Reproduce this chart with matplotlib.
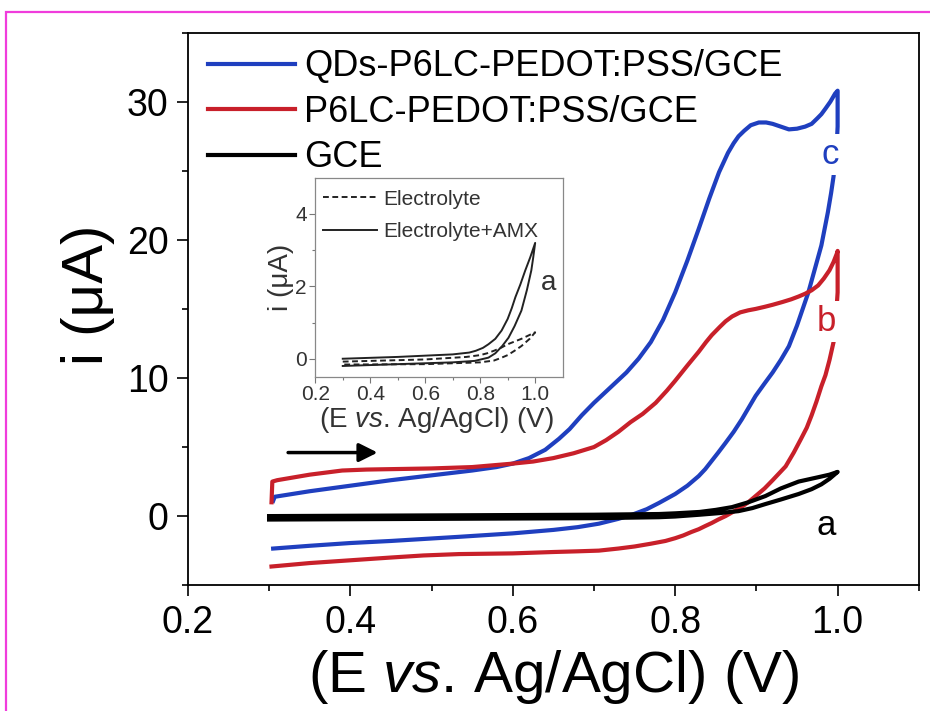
import matplotlib
matplotlib.use('Agg')
import matplotlib.pyplot as plt
from matplotlib.patches import Rectangle

plt.rcParams['font.family'] = ['Liberation Sans', 'DejaVu Sans']
plt.rcParams['mathtext.fontset'] = 'custom'
plt.rcParams['mathtext.rm'] = 'Liberation Sans'
plt.rcParams['mathtext.it'] = 'Liberation Sans:italic'

# CV of QDs-P6LC-PEDOT:PSS/GCE (c)
c_fwd_E = [0.305, 0.307, 0.35, 0.40, 0.45, 0.50, 0.55, 0.58, 0.60, 0.62, 0.64, 0.657,
           0.67, 0.685, 0.70, 0.72, 0.74, 0.755, 0.77, 0.785, 0.80, 0.815, 0.829, 0.842,
           0.854, 0.865, 0.872, 0.878, 0.885, 0.893, 0.903, 0.912, 0.92, 0.93, 0.94,
           0.95, 0.96, 0.968, 0.975, 0.98, 0.985, 0.991, 0.997, 1.0]
c_fwd_i = [1.1, 1.4, 1.8, 2.2, 2.6, 2.95, 3.3, 3.55, 3.8, 4.2, 4.8, 5.6,
           6.3, 7.3, 8.2, 9.3, 10.4, 11.4, 12.6, 14.2, 16.2, 18.5, 20.8, 23.0,
           24.9, 26.3, 27.0, 27.5, 27.9, 28.3, 28.5, 28.5, 28.4, 28.2, 28.0,
           28.05, 28.2, 28.4, 28.8, 29.1, 29.5, 30.0, 30.6, 30.8]
c_rev_E = [1.0, 0.999, 0.997, 0.995, 0.992, 0.988, 0.984, 0.98, 0.972, 0.964, 0.957,
           0.95, 0.94, 0.93, 0.92, 0.91, 0.899, 0.89, 0.882, 0.872, 0.862, 0.853,
           0.845, 0.837, 0.829, 0.815, 0.80, 0.78, 0.765, 0.747, 0.73, 0.706, 0.68,
           0.65, 0.60, 0.534, 0.45, 0.40, 0.35, 0.305]
c_rev_i = [28.2, 27.0, 25.8, 24.6, 23.4, 22.0, 20.8, 19.6, 17.9, 16.2, 15.0,
           13.8, 12.3, 11.3, 10.4, 9.6, 8.7, 7.8, 7.0, 6.1, 5.3, 4.6,
           4.0, 3.4, 2.9, 2.2, 1.6, 0.95, 0.5, 0.1, -0.2, -0.55, -0.8,
           -1.0, -1.25, -1.5, -1.8, -1.95, -2.15, -2.35]

# CV of P6LC-PEDOT:PSS/GCE (b)
b_fwd_E = [0.303, 0.304, 0.31, 0.32, 0.335, 0.35, 0.37, 0.39, 0.42, 0.45, 0.50, 0.55,
           0.60, 0.625, 0.65, 0.675, 0.70, 0.715, 0.73, 0.745, 0.76, 0.776, 0.79, 0.80,
           0.815, 0.829, 0.838, 0.845, 0.855, 0.862, 0.87, 0.88, 0.89, 0.899, 0.91,
           0.92, 0.932, 0.943, 0.952, 0.96, 0.968, 0.976, 0.983, 0.99, 0.995, 0.999, 1.0]
b_fwd_i = [1.0, 2.5, 2.6, 2.7, 2.85, 3.0, 3.15, 3.3, 3.37, 3.4, 3.45, 3.55,
           3.8, 3.95, 4.2, 4.55, 5.0, 5.5, 6.1, 6.8, 7.4, 8.2, 9.1, 9.8,
           10.9, 11.9, 12.6, 13.1, 13.7, 14.1, 14.45, 14.75, 14.9, 15.0, 15.15,
           15.3, 15.5, 15.7, 15.9, 16.1, 16.35, 16.7, 17.2, 17.8, 18.4, 19.0, 19.2]
b_rev_E = [1.0, 0.999, 0.998, 0.996, 0.995, 0.99, 0.985, 0.98, 0.974, 0.968, 0.962,
           0.955, 0.946, 0.936, 0.928, 0.92, 0.91, 0.899, 0.89, 0.88, 0.871, 0.862,
           0.853, 0.845, 0.837, 0.829, 0.82, 0.81, 0.80, 0.788, 0.77, 0.75, 0.73,
           0.706, 0.68, 0.65, 0.60, 0.534, 0.49, 0.45, 0.40, 0.35, 0.303]
b_rev_i = [16.2, 15.3, 14.5, 13.5, 12.6, 11.3, 10.2, 9.4, 8.3, 7.3, 6.4,
           5.6, 4.6, 3.6, 3.1, 2.6, 2.0, 1.45, 1.0, 0.6, 0.3, 0.0,
           -0.25, -0.5, -0.72, -0.95, -1.15, -1.4, -1.6, -1.8, -2.0, -2.2, -2.35,
           -2.5, -2.55, -2.6, -2.7, -2.75, -2.85, -3.0, -3.2, -3.4, -3.65]

# CV of bare GCE (a)
a_fwd_E = [0.30, 0.50, 0.70, 0.78, 0.80, 0.83, 0.855, 0.878, 0.895, 0.911, 0.93,
           0.952, 0.968, 0.98, 0.99, 1.0]
a_fwd_i = [-0.25, -0.2, -0.15, -0.08, -0.03, 0.1, 0.22, 0.36, 0.58, 0.87, 1.2,
           1.6, 1.95, 2.3, 2.7, 3.2]
a_rev_E = [1.0, 0.99, 0.975, 0.952, 0.93, 0.911, 0.89, 0.87, 0.85, 0.83, 0.80,
           0.78, 0.70, 0.50, 0.30]
a_rev_i = [3.2, 3.0, 2.8, 2.5, 2.0, 1.45, 1.0, 0.65, 0.45, 0.3, 0.2,
           0.15, 0.1, 0.05, 0.0]

# inset: GCE in electrolyte with and without AMX
amx_E = [0.30, 0.50, 0.70, 0.76, 0.784, 0.81, 0.83, 0.855, 0.878, 0.90, 0.915, 0.928,
         0.946, 0.964, 0.982, 1.0,
         0.993, 0.986, 0.97, 0.95, 0.925, 0.903, 0.88, 0.855, 0.83, 0.78, 0.70, 0.50, 0.30]
amx_i = [0.0, 0.05, 0.12, 0.17, 0.22, 0.3, 0.4, 0.55, 0.78, 1.1, 1.4, 1.7,
         2.05, 2.44, 2.8, 3.2,
         2.8, 2.44, 1.9, 1.33, 0.9, 0.58, 0.35, 0.15, 0.03, -0.06, -0.1, -0.15, -0.2]
blank_E = [0.30, 0.60, 0.75, 0.80, 0.825, 0.85, 0.875, 0.90, 0.95, 1.0,
           0.98, 0.965, 0.95, 0.925, 0.90, 0.875, 0.85, 0.80, 0.60, 0.30]
blank_i = [-0.08, -0.02, 0.05, 0.1, 0.15, 0.22, 0.3, 0.4, 0.55, 0.73,
           0.55, 0.45, 0.35, 0.22, 0.1, 0.02, -0.05, -0.1, -0.15, -0.16]

legend_labels = ['QDs-P6LC-PEDOT:PSS/GCE', 'P6LC-PEDOT:PSS/GCE', 'GCE']
inset_labels = ['Electrolyte', 'Electrolyte+AMX']
scan_arrow = [(0.32, 4.6), (0.437, 4.6)]

blue = '#1f3fbf'
red = '#c8202a'
xlabel = r'(E $\mathit{vs}$. Ag/AgCl) (V)'

fig = plt.figure(figsize=(9.3, 7.11), dpi=100)
ax = fig.add_axes([0.202, 0.177, 0.786, 0.777])

lc, = ax.plot(c_fwd_E + c_rev_E, c_fwd_i + c_rev_i, color=blue, lw=3)
lb, = ax.plot(b_fwd_E + b_rev_E, b_fwd_i + b_rev_i, color=red, lw=3)
la, = ax.plot(a_fwd_E + a_rev_E, a_fwd_i + a_rev_i, color='black', lw=3)

ax.set_xlim(0.2, 1.1)
ax.set_ylim(-5, 35)
ax.set_xticks([0.2, 0.4, 0.6, 0.8, 1.0])
ax.set_xticks([0.3, 0.5, 0.7, 0.9, 1.1], minor=True)
ax.set_yticks([0, 10, 20, 30])
ax.set_yticks([-5, 5, 15, 25, 35], minor=True)
ax.tick_params(which='major', direction='out', length=8, width=1.2, labelsize=27, pad=6)
ax.tick_params(which='minor', direction='out', length=4.5, width=1.2)
for s in ax.spines.values():
    s.set_linewidth(1.3)

ax.set_xlabel(xlabel, fontsize=42)
ax.xaxis.set_label_coords(0.5, -0.113)
ax.set_ylabel('i (\u03bcA)', fontsize=42)
ax.yaxis.set_label_coords(-0.10, 0.525)

ax.legend([lc, lb, la], legend_labels, loc='upper left', bbox_to_anchor=(0.028, 0.97),
          frameon=False, fontsize=26, handlelength=2.4, handletextpad=0.25,
          labelspacing=0.29, borderpad=0, borderaxespad=0)

# curve letters sit on top of the reverse-scan lines
white = dict(facecolor='white', edgecolor='none', pad=3)
ax.text(0.991, 26.2, 'c', color=blue, fontsize=25, ha='center', va='center', bbox=white)
ax.text(0.986, 14.1, 'b', color=red, fontsize=25, ha='center', va='center', bbox=white)
ax.text(0.986, -0.7, 'a', color='black', fontsize=25, ha='center', va='center')

ax.annotate('', xy=scan_arrow[1], xytext=scan_arrow[0],
            arrowprops=dict(arrowstyle='-|>', color='black', lw=2.5, mutation_scale=28))

# inset
ins = fig.add_axes([0.339, 0.470, 0.266, 0.280])
l_blank, = ins.plot(blank_E, blank_i, color='#222222', lw=1.4, ls=(0, (3, 1.8)))
l_amx, = ins.plot(amx_E, amx_i, color='#222222', lw=1.4)
ins.set_xlim(0.2, 1.1)
ins.set_ylim(-0.5, 5)
ins.set_xticks([0.2, 0.4, 0.6, 0.8, 1.0])
ins.set_xticks([0.3, 0.5, 0.7, 0.9], minor=True)
ins.set_xticklabels(['0.2', '0.4', '0.6', '0.8', '1.0'])
ins.set_yticks([0, 2, 4])
ins.set_yticks([1, 3], minor=True)
ins.tick_params(which='major', direction='out', length=4, width=0.8, colors='#777777',
                labelcolor='#333333', labelsize=15, pad=2)
ins.tick_params(which='minor', direction='out', length=2.5, width=0.8, colors='#777777')
for s in ins.spines.values():
    s.set_color('#888888')
    s.set_linewidth(0.9)
ins.set_xlabel(xlabel, fontsize=20, color='#333333')
ins.xaxis.set_label_coords(0.49, -0.14)
ins.set_ylabel('i (\u03bcA)', fontsize=20, color='#333333')
ins.yaxis.set_label_coords(-0.085, 0.5)
ins.legend([l_blank, l_amx], inset_labels, loc='upper left', bbox_to_anchor=(0.03, 0.94),
           frameon=False, fontsize=15, handlelength=2.6, handletextpad=0.3,
           labelspacing=0.65, borderpad=0, borderaxespad=0, labelcolor='#333333')
ins.text(1.047, 2.1, 'a', fontsize=20, color='#333333', ha='center', va='center')

# pink frame around the panel
fig.patches.append(Rectangle((6 / 930, -0.2), 1.5, 1.2 - 12 / 711, transform=fig.transFigure,
                             fill=False, edgecolor='#f03cdc', lw=1.6))

fig.savefig('out.png', dpi=100)
